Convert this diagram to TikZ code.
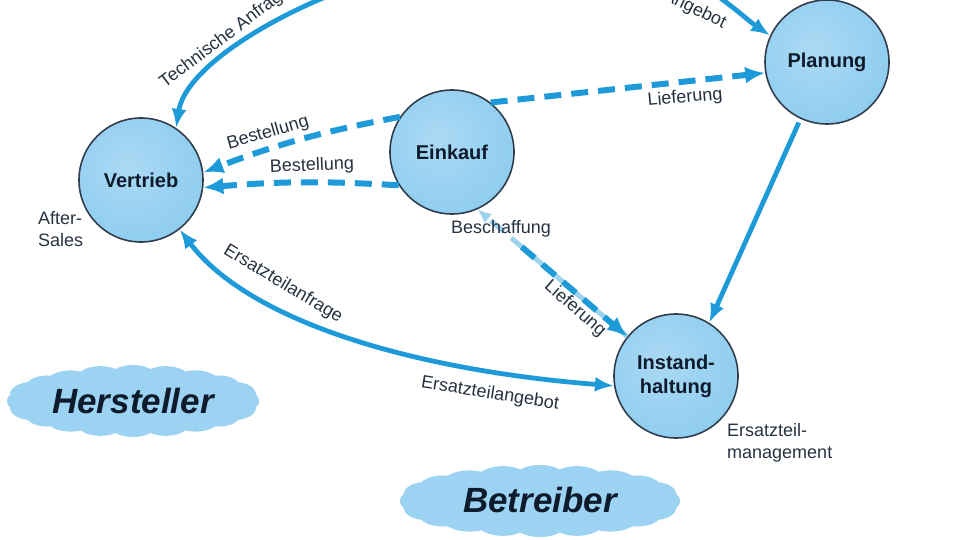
\documentclass[tikz,border=0pt]{standalone}
\usepackage{fontspec}
\setmainfont{Liberation Sans}
\usetikzlibrary{arrows.meta}
\definecolor{arrowblue}{HTML}{1E9AD8}
\definecolor{ballblue}{HTML}{8FCDF0}
\definecolor{ballrim}{HTML}{5A98C4}
\definecolor{cloudblue}{HTML}{9CD2F2}
\definecolor{inkdark}{HTML}{0E1B2C}
\definecolor{fadeblue}{HTML}{9ED3EE}
\pgfdeclareradialshading{ballshade}{\pgfpoint{-6bp}{6bp}}{%
  color(0bp)=(ballblue!75!white); color(30bp)=(ballblue); color(46bp)=(ballblue); color(56bp)=(ballrim); color(70bp)=(ballrim)}
\begin{document}
\begin{tikzpicture}[x=1pt,y=-1pt,
  ball/.style={circle, minimum size=124pt, inner sep=0pt, draw=inkdark!85, line width=1.6pt,
    shading=ballshade, font=\bfseries\fontsize{20}{24}\selectfont, text=inkdark, align=center},
  lbl/.style={font=\fontsize{18}{22}\selectfont, text=inkdark!90, inner sep=1pt},
  solidarrow/.style={draw=arrowblue, line width=4.8pt, -{Latex[length=19pt,width=15pt]}},
  dasharrow/.style={draw=arrowblue, line width=6pt, dash pattern=on 17pt off 10pt, -{Latex[length=20pt,width=17pt]}},
  cloudtext/.style={font=\bfseries\itshape\fontsize{35}{40}\selectfont, text=inkdark, inner sep=0pt},
  cloudfill/.style={fill=cloudblue}
]
\useasboundingbox (0,0) rectangle (960,540);
\clip (0,0) rectangle (960,540);

% clouds (drawn shapes)
\fill[cloudfill] (133,401) ellipse [x radius=112pt, y radius=28pt];
\foreach \a/\rx/\ry in {0/20/12,18/22/12,36/22/12,54/24/12,72/24/13,90/24/13,108/24/13,126/24/12,144/22/12,162/22/12,180/20/12,198/22/12,216/22/12,234/24/12,252/24/13,270/24/13,288/24/13,306/24/12,324/22/12,342/22/12}
  \fill[cloudfill] ({133+106*cos(\a)},{401+23*sin(\a)}) ellipse [x radius=\rx pt, y radius=\ry pt];
\fill[cloudfill] (540,501) ellipse [x radius=126pt, y radius=28pt];
\foreach \a/\rx/\ry in {0/20/12,18/22/12,36/24/12,54/26/12,72/26/13,90/26/13,108/26/13,126/26/12,144/24/12,162/22/12,180/20/12,198/22/12,216/24/12,234/26/12,252/26/13,270/26/13,288/26/13,306/26/12,324/24/12,342/22/12}
  \fill[cloudfill] ({540+120*cos(\a)},{501+23*sin(\a)}) ellipse [x radius=\rx pt, y radius=\ry pt];
\node[cloudtext] (H) at (133,401) {Hersteller};
\node[cloudtext] (B) at (540,500) {Betreiber};

% nodes
\node[ball] (V) at (141,180) {Vertrieb};
\node[ball] (E) at (452,152) {Einkauf};
\node[ball] (P) at (827,62) {Planung};
\node[ball] (I) at (676,376) {Instand-\\haltung};

% off-page sources
\coordinate (tA) at (338,-8);
\coordinate (tB) at (712,-8);

% connectors
\draw[solidarrow] (tA) .. controls (265,20) and (185,70) .. (V.56);
\draw[solidarrow] (tB) .. controls (735,8) and (750,22) .. (P.155);
\draw[dasharrow] (E.52) -- (P.190);
\draw[dasharrow] (E.146) to[bend right=5] (V.7);
\draw[dasharrow] (E.212) to[bend right=4] (V.-7);
\draw[dasharrow, draw=fadeblue, line width=5pt, -{Latex[length=14pt,width=12pt]}] (I.141) -- (E.-66);
\draw[dasharrow, shorten <=58pt] (E.-66) -- (I.141);
\draw[solidarrow, shorten <=4pt] (P.-115) -- (I.58);
\draw[solidarrow, {Latex[length=19pt,width=15pt]}-{Latex[length=19pt,width=15pt]}]
  (V.-52) .. controls (249,321) and (412,370) .. (I.189);

% labels
\node[lbl, rotate=37, anchor=base west] (lTA) at (164,89) {Technische Anfrage};
\node[lbl, rotate=-26, anchor=base east] (lTB) at (724,29) {Technisches Angebot};
\node[lbl, rotate=5] (lL1) at (685,98) {Lieferung};
\node[lbl, rotate=16] (lB1) at (268,133) {Bestellung};
\node[lbl, rotate=2] (lB2) at (312,166) {Bestellung};
\node[lbl] (lBe) at (501,229) {Beschaffung};
\node[lbl, rotate=-41] (lL2) at (575,309) {Lieferung};
\node[lbl, rotate=-31] (lEa) at (283,284) {Ersatzteilanfrage};
\node[lbl, rotate=-9] (lEb) at (490,394) {Ersatzteilangebot};
\node[lbl, align=left, anchor=north west] (lAS) at (37,210) {After-\\Sales};
\node[lbl, align=left, anchor=north west] (lEM) at (726,422) {Ersatzteil-\\management};
\end{tikzpicture}
\end{document}
